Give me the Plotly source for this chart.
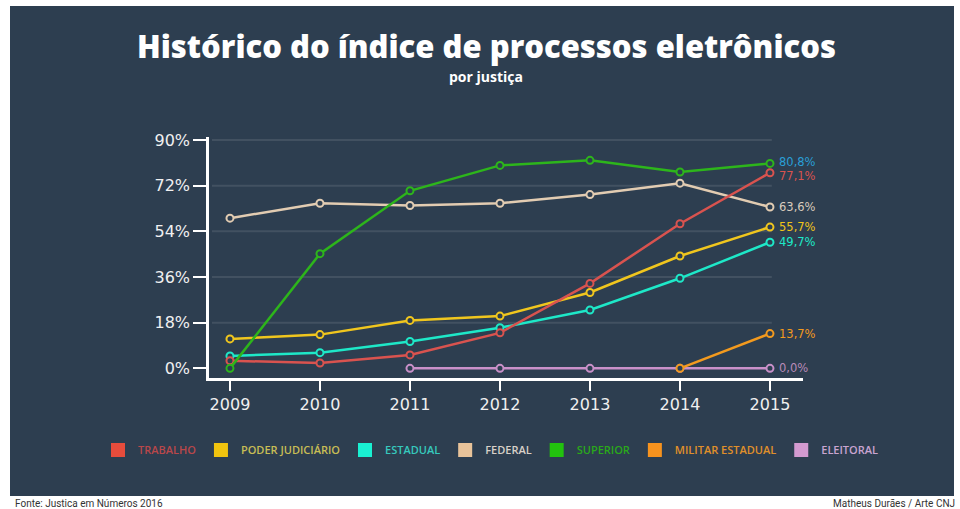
import plotly.graph_objects as go

# ---------------- data ----------------
years = [2009, 2010, 2011, 2012, 2013, 2014, 2015]
trabalho = [3.0, 2.1, 5.3, 14.0, 33.5, 57.0, 77.1]
poder_judiciario = [11.6, 13.3, 18.9, 20.6, 29.9, 44.3, 55.7]
estadual = [4.9, 6.2, 10.6, 16.0, 23.0, 35.5, 49.7]
federal = [59.2, 65.1, 64.2, 65.1, 68.5, 73.0, 63.6]
superior = [0.0, 45.2, 70.0, 80.0, 82.0, 77.4, 80.8]
militar_estadual = [None, None, None, None, None, 0.0, 13.7]
eleitoral = [None, None, 0.0, 0.0, 0.0, 0.0, 0.0]

series_names = ["TRABALHO", "PODER JUDICIÁRIO", "ESTADUAL", "FEDERAL",
                "SUPERIOR", "MILITAR ESTADUAL", "ELEITORAL"]
series_values = [trabalho, poder_judiciario, estadual, federal,
                 superior, militar_estadual, eleitoral]
y_ticks = [0, 18, 36, 54, 72, 90]
y_tick_labels = ["0%", "18%", "36%", "54%", "72%", "90%"]

# ---------------- styles ----------------
BG = "#2d3e50"
line_colors = ["#d9534f", "#f0c61e", "#1ee8c8", "#e2ccb2", "#2db51b", "#f39a1e", "#c990c9"]
square_colors = ["#e74c3c", "#f1c40f", "#19f0d2", "#e8c39a", "#22c20e", "#f7931e", "#d39ad0"]
legend_text_colors = ["#b9474a", "#c8bd55", "#36c9bd", "#d8d0c8", "#2aa81a", "#e0902a", "#c9a4d0"]
label_colors = ["#d9534f", "#f0c419", "#1de9c9", "#d8cbbd", "#2a9fd6", "#f39a1e", "#b98ab8"]
label_yshift = [-3, 0, 0, 0, 1, 0, 0]

W, H = 960, 509
L, R, T, B = 209, 157, 137, 131
PW, PH = W - L - R, H - T - B


def px(xp):
    return (xp - L) / PW


def py(yp):
    return (H - B - yp) / PH


fig = go.Figure()

draw_order = [6, 5, 3, 2, 1, 0, 4]
for i in draw_order:
    fig.add_trace(go.Scatter(
        x=years, y=series_values[i], mode="lines+markers",
        line=dict(color=line_colors[i], width=2.5),
        marker=dict(symbol="circle", size=7, color=BG,
                    line=dict(color=line_colors[i], width=2)),
        showlegend=False, hoverinfo="x+y", name=series_names[i]))

# legend entries (squares)
for i, nm in enumerate(series_names):
    fig.add_trace(go.Scatter(
        x=[None], y=[None], mode="markers",
        marker=dict(symbol="square", size=14, color=square_colors[i]),
        name=f'<span style="color:{legend_text_colors[i]}">{nm}</span>',
        showlegend=True))

shapes = [dict(type="rect", xref="paper", yref="paper",
               x0=px(10), x1=px(954), y0=py(496), y1=py(6),
               fillcolor=BG, line=dict(width=0), layer="below")]
for v in y_ticks[1:]:
    shapes.append(dict(type="line", xref="x", yref="y",
                       x0=2008.8, x1=years[-1] + 0.02, y0=v, y1=v,
                       line=dict(color="rgba(255,255,255,0.10)", width=2),
                       layer="below"))

annotations = []
for i, vals in enumerate(series_values):
    last = vals[-1]
    annotations.append(dict(
        x=years[-1], y=last, xref="x", yref="y",
        text=f"{last:.1f}%".replace(".", ","), showarrow=False,
        xanchor="left", yanchor="middle", xshift=7, yshift=label_yshift[i],
        font=dict(family="DejaVu Sans", size=11.5, color=label_colors[i])))

annotations += [
    dict(x=px(486), y=py(46), xref="paper", yref="paper",
         text="Histórico do índice de processos eletrônicos", showarrow=False,
         xanchor="center", yanchor="middle",
         font=dict(family="Open Sans", size=31, color="#ffffff", weight=800)),
    dict(x=px(486), y=py(76), xref="paper", yref="paper",
         text="por justiça", showarrow=False, xanchor="center", yanchor="middle",
         font=dict(family="Open Sans", size=14, color="#ffffff", weight=700)),
    dict(x=px(13), y=py(503), xref="paper", yref="paper",
         text="Fonte: Justica em Números 2016", showarrow=False,
         xanchor="left", yanchor="middle",
         font=dict(family="Liberation Sans Narrow, Roboto, sans-serif", size=10, color="#333333")),
    dict(x=px(957), y=py(503), xref="paper", yref="paper",
         text="Matheus Durães / Arte CNJ", showarrow=False,
         xanchor="right", yanchor="middle",
         font=dict(family="Liberation Sans Narrow, Roboto, sans-serif", size=10, color="#333333")),
]

fig.update_layout(
    width=W, height=H,
    margin=dict(l=L, r=R, t=T, b=B, pad=0),
    paper_bgcolor="#ffffff", plot_bgcolor=BG,
    shapes=shapes, annotations=annotations,
    legend=dict(orientation="h", x=px(98), xanchor="left",
                y=py(450), yanchor="middle", bgcolor="rgba(0,0,0,0)",
                font=dict(family="Open Sans", size=11, color="#ffffff", weight=600),
                itemclick=False),
    xaxis=dict(range=[2008.767, 2015.367], tickvals=years,
               ticktext=[str(y) for y in years],
               showgrid=False, zeroline=False, showline=True,
               linecolor="#ffffff", linewidth=2.5,
               ticks="outside", ticklen=10, tickwidth=2, tickcolor="#ffffff",
               tickfont=dict(family="DejaVu Sans", size=16, color="#f0f0f0")),
    yaxis=dict(range=[-3.8, 91.2], tickvals=y_ticks, ticktext=y_tick_labels,
               showgrid=False, zeroline=False, showline=True,
               linecolor="#ffffff", linewidth=2.5,
               ticks="outside", ticklen=13, tickwidth=2, tickcolor="#ffffff",
               tickfont=dict(family="DejaVu Sans", size=16, color="#f0f0f0")),
    hovermode="closest",
)

fig.write_html("out.html", config={"displayModeBar": False},
               post_script="document.body.style.margin='0';document.body.style.padding='0';")
